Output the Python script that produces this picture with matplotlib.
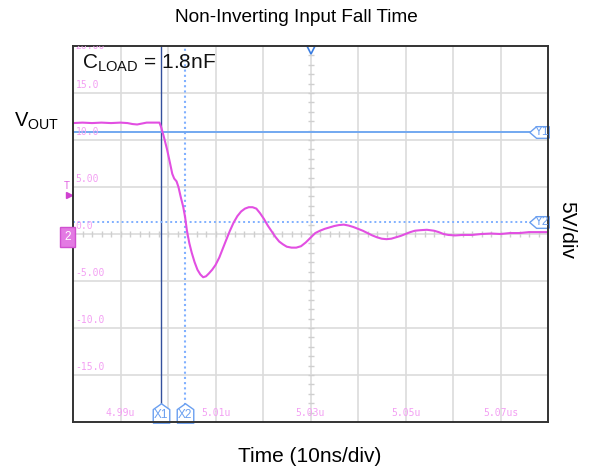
import matplotlib
matplotlib.use("Agg")
from matplotlib import pyplot as plt
from matplotlib.path import Path
import matplotlib.transforms as mtransforms
import numpy as np

plt.rcParams['font.family'] = ['Liberation Sans', 'DejaVu Sans']

# waveform: time (ns from 4.98us) and volts
t_ns = [0, 2, 4, 6, 8, 10, 11.5, 12.5, 13.5, 14.5, 15.5, 17, 18.2,
        18.6, 19.2, 19.8, 20.4, 20.9, 21.3, 21.8, 22.2, 22.7, 23.2, 23.6, 24.0, 24.5,
        25.0, 25.6, 26.2, 26.8, 27.4, 28.0, 28.6, 29.3, 30.0, 30.8, 31.5, 32.2, 33.0,
        33.8, 34.6, 35.4, 36.2, 37.0, 37.8, 38.6, 39.4, 40.2, 41.0, 41.8, 42.6, 43.4,
        44.2, 45.0, 46.0, 47.0, 48.0, 49.0, 50.0, 51.0, 52.0, 53.0, 54.0, 55.0, 56.0,
        57.0, 58.0, 59.0, 60.0, 61.0, 62.0, 63.0, 64.0, 65.0, 66.0, 67.0, 68.0, 69.0,
        70.0, 71.0, 72.0, 73.0, 74.5, 76.0, 77.0, 78.0, 79.0, 80.5, 82, 84, 86, 88,
        90, 92, 94, 96, 98, 100]
v_out = [11.8, 11.85, 11.8, 11.85, 11.8, 11.85, 11.8, 11.7, 11.65, 11.75, 11.85, 11.85, 11.85,
         11.3, 10.2, 9.0, 7.6, 6.4, 5.9, 5.6, 5.0, 3.9, 2.9, 1.8, 0.3, -1.0,
         -2.0, -3.0, -3.8, -4.3, -4.6, -4.5, -4.2, -3.8, -3.3, -2.5, -1.6, -0.7, 0.3,
         1.2, 1.9, 2.4, 2.7, 2.85, 2.85, 2.7, 2.2, 1.6, 0.9, 0.3, -0.3, -0.8,
         -1.1, -1.35, -1.45, -1.45, -1.3, -0.9, -0.4, 0.1, 0.35, 0.55, 0.7, 0.85, 0.95,
         1.0, 0.9, 0.75, 0.55, 0.35, 0.1, -0.15, -0.35, -0.5, -0.55, -0.5, -0.35, -0.2,
         0.0, 0.2, 0.35, 0.4, 0.45, 0.35, 0.2, 0.0, -0.1, -0.15, -0.1, -0.1, 0.0, 0.05,
         0.0, 0.1, 0.1, 0.2, 0.2, 0.2]

# cursors
x1_ns, x2_ns = 18.5, 23.6
y1_v, y2_v = 10.85, 1.28

y_grid = [15, 10, 5, 0, -5, -10, -15]
y_labels = ["15.0", "10.0", "5.00", "0.0", "-5.00", "-10.0", "-15.0"]
x_lab_pos = [10, 30, 50, 70, 90]
x_labels = ["4.99u", "5.01u", "5.03u", "5.05u", "5.07us"]

fig = plt.figure(figsize=(5.93, 4.73), dpi=100)
ax = fig.add_axes([73/593, 1-422/473, 475/593, 376/473])
ax.set_xlim(0, 100)
ax.set_ylim(-20, 20)
ax.set_xticks(np.arange(10, 100, 10))
ax.set_yticks(np.arange(-15, 20, 5))
ax.tick_params(length=0, labelbottom=False, labelleft=False)
ax.grid(True, color="#dcdcdc", linewidth=1.2)
for s in ax.spines.values():
    s.set_color("#333333")
    s.set_linewidth(1.4)

# fine ticks on center lines
ax.plot(np.full(39, 50), np.arange(-19, 20, 1), ls="none", marker="_", ms=4, color="#cfcfcf")
ax.plot(np.arange(2, 100, 2), np.zeros(49), ls="none", marker="|", ms=4, color="#cfcfcf")

pink = "#f3a0f3"
ytr = mtransforms.blended_transform_factory(ax.transAxes, ax.transData)
for v, lab in zip(y_grid, y_labels):
    ax.text(0.005, v + 0.3, lab, transform=ytr, fontsize=7, family="DejaVu Sans Mono",
            color=pink, va="bottom", ha="left")
ax.text(0.005, 20, "20.00", transform=ytr, fontsize=7, family="DejaVu Sans Mono",
        color=pink, va="center", ha="left", clip_on=True)
for x, lab in zip(x_lab_pos, x_labels):
    ax.text(x, -19.6, lab, fontsize=7, family="DejaVu Sans Mono", color=pink,
            va="bottom", ha="center")

# cursors
ax.plot([x1_ns, x1_ns], [-18.2, 20], color="#34509c", lw=1)
ax.plot([x2_ns, x2_ns], [-18.2, 20], color="#80b0ff", lw=1.5, ls=(0, (1, 1.5)))
ax.axhline(y1_v, xmax=0.965, color="#72a8f0", lw=1.4)
ax.axhline(y2_v, xmax=0.965, color="#80b0ff", lw=1.4, ls=(0, (1, 1.5)))

# waveform
ax.plot(t_ns, v_out, color="#e24fe2", lw=1.5)

# cursor tags
up_tag = Path([(-0.85, -1), (0.85, -1), (0.85, 0.4), (0, 1), (-0.85, 0.4), (-0.85, -1)])
left_tag = Path([(1, -0.6), (1, 0.6), (-0.3, 0.6), (-1, 0), (-0.3, -0.6), (1, -0.6)])
tag_blue = "#6a9ff0"
for x, lab in [(x1_ns, "X1"), (x2_ns, "X2")]:
    ax.plot(x, -19.0, marker=up_tag, ms=14, mfc="white", mec=tag_blue, mew=1, clip_on=False)
    ax.text(x, -19.3, lab, fontsize=8.5, color=tag_blue, ha="center", va="center")
for y, lab in [(y1_v, "Y1"), (y2_v, "Y2")]:
    ax.plot(98.2, y, marker=left_tag, ms=14, mfc="white", mec=tag_blue, mew=1, clip_on=False)
    ax.text(98.7, y, lab, fontsize=8.5, color=tag_blue, ha="center", va="center")

# trigger marker at top
ax.plot(50, 19.6, marker="v", ms=6, mfc="white", mec="#3b7de0", mew=1.2, clip_on=False)

# channel markers on the left
ax.text(-0.8, 5.1, "T", fontsize=7, color="#e060e0", ha="right", va="center")
ax.plot(-0.9, 4.2, marker=">", ms=5, color="#d040d0", clip_on=False)
ax.text(-0.4, -0.3, "2", fontsize=8.5, color="white", ha="right", va="center",
        bbox=dict(boxstyle="square,pad=0.35", fc="#e37ae3", ec="#d050d0"))

ax.text(0.02, 0.955, r"$\mathregular{C_{LOAD}}$ = 1.8nF", transform=ax.transAxes,
        fontsize=15, ha="left", va="center", color="#111111")

fig.text(0.499, 0.962, "Non-Inverting Input Fall Time", fontsize=13.7, ha="center", va="center")
fig.text(0.062, 0.744, r"$\mathregular{V_{OUT}}$", fontsize=14.5, ha="center", va="center")
fig.text(0.956, 0.514, "5V/div", fontsize=15, rotation=270, ha="center", va="center")
fig.text(0.523, 0.034, "Time (10ns/div)", fontsize=15, ha="center", va="center")

fig.savefig("out.png", dpi=100)
